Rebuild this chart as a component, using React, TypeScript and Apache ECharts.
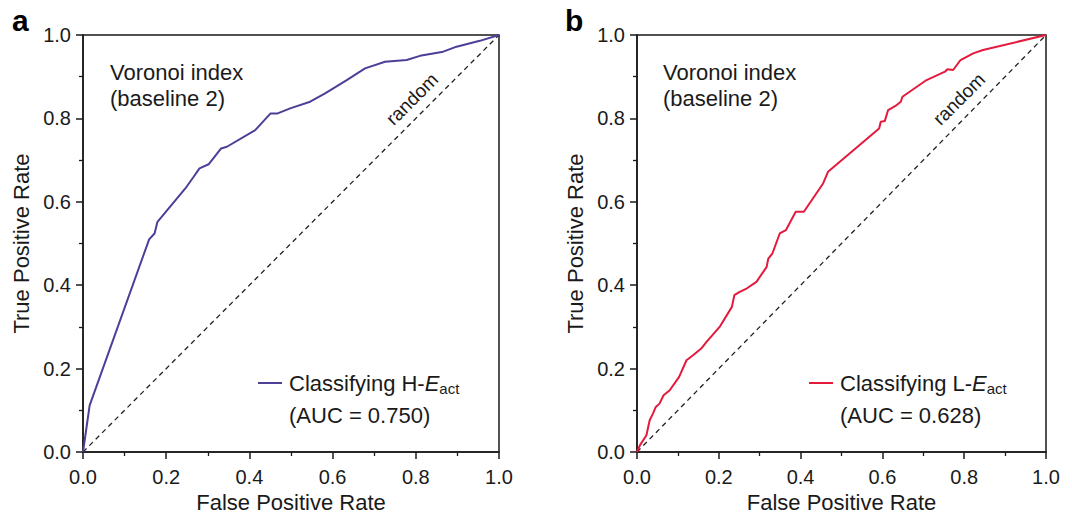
import React, { useEffect, useRef } from "react";
import * as echarts from "echarts";

// Panel a: ROC curve, classifying H-Eact (AUC = 0.750)
const fprA = [0, 0.016, 0.159, 0.172, 0.179, 0.199, 0.246, 0.266, 0.28, 0.302, 0.332, 0.346, 0.414, 0.451, 0.468, 0.498, 0.546, 0.582, 0.634, 0.678, 0.726, 0.778, 0.81, 0.866, 0.898, 0.954, 1];
const tprA = [0, 0.112, 0.51, 0.524, 0.552, 0.576, 0.632, 0.66, 0.68, 0.69, 0.728, 0.732, 0.772, 0.812, 0.812, 0.824, 0.84, 0.86, 0.892, 0.92, 0.936, 0.94, 0.95, 0.96, 0.972, 0.986, 1];

// Panel b: ROC curve, classifying L-Eact (AUC = 0.628)
const fprB = [0, 0.007, 0.023, 0.031, 0.039, 0.046, 0.055, 0.065, 0.08, 0.103, 0.121, 0.137, 0.157, 0.17, 0.202, 0.232, 0.238, 0.251, 0.268, 0.292, 0.317, 0.321, 0.331, 0.349, 0.364, 0.388, 0.408, 0.455, 0.467, 0.592, 0.596, 0.606, 0.614, 0.635, 0.645, 0.649, 0.708, 0.753, 0.759, 0.773, 0.791, 0.822, 0.846, 1];
const tprB = [0, 0.016, 0.04, 0.076, 0.092, 0.108, 0.116, 0.136, 0.148, 0.18, 0.22, 0.232, 0.248, 0.264, 0.3, 0.348, 0.376, 0.384, 0.392, 0.408, 0.444, 0.464, 0.476, 0.524, 0.532, 0.576, 0.576, 0.644, 0.672, 0.776, 0.792, 0.794, 0.82, 0.832, 0.84, 0.852, 0.892, 0.912, 0.918, 0.916, 0.94, 0.956, 0.964, 1];

const randomLine = [0, 1];
const axisTicks = [0, 0.2, 0.4, 0.6, 0.8, 1.0];

const colorA = "#4b3f98";
const colorB = "#e41a3c";
const ink = "#1a1a1a";
const font = "Liberation Sans, Arial, sans-serif";

const zip = (xs: number[], ys: number[]) => xs.map((x, i) => [x, ys[i]]);

function axis(gridIndex: number, name: string, isY: boolean) {
  return {
    gridIndex,
    type: "value",
    min: axisTicks[0],
    max: axisTicks[axisTicks.length - 1],
    interval: 0.2,
    name,
    nameLocation: "middle",
    nameGap: isY ? 51 : 39,
    nameTextStyle: { fontSize: 22, lineHeight: 22, color: ink, fontFamily: font },
    axisLine: { show: true, onZero: false, lineStyle: { color: ink, width: 1.5 } },
    axisTick: { show: true, inside: false, length: 7, lineStyle: { color: ink, width: 1.5 } },
    minorTick: { show: true, splitNumber: 2, length: 4, lineStyle: { color: ink, width: 1.3 } },
    splitLine: { show: false },
    minorSplitLine: { show: false },
    axisLabel: {
      fontSize: 20,
      color: ink,
      fontFamily: font,
      margin: isY ? 12 : 15,
      formatter: (v: number) => v.toFixed(1),
    },
  };
}

function panelTexts(left: number, legendLeft: number, randomX: number, letter: string, letterX: number, legendLabel: string, auc: string, color: string) {
  return [
    {
      type: "text",
      left: letterX,
      top: 5,
      style: { text: letter, font: `bold 30px ${font}`, fill: "#000" },
    },
    {
      type: "text",
      x: left,
      y: 72,
      style: { text: "Voronoi index", font: `22px ${font}`, fill: ink, verticalAlign: "middle" },
    },
    {
      type: "text",
      x: left,
      y: 98,
      style: { text: "(baseline 2)", font: `22px ${font}`, fill: ink, verticalAlign: "middle" },
    },
    {
      type: "text",
      x: randomX,
      y: 99,
      rotation: Math.PI / 4,
      style: { text: "random", font: `19px ${font}`, fill: ink, align: "center", verticalAlign: "middle" },
    },
    {
      type: "line",
      shape: { x1: legendLeft, y1: 383, x2: legendLeft + 24, y2: 383 },
      style: { stroke: color, lineWidth: 2 },
    },
    {
      type: "text",
      x: legendLeft + 31,
      y: 383,
      style: {
        text: `{n|${legendLabel}}{i|E}{s|act}`,
        verticalAlign: "middle",
        rich: {
          n: { fontSize: 22, fontFamily: font, fill: ink },
          i: { fontSize: 22, fontFamily: font, fontStyle: "italic", fill: ink },
          s: { fontSize: 15, fontFamily: font, fill: ink, padding: [10, 0, 0, 0] },
        },
      },
    },
    {
      type: "text",
      x: legendLeft + 31,
      y: 415,
      style: { text: auc, font: `22px ${font}`, fill: ink, verticalAlign: "middle" },
    },
  ];
}

export default function App() {
  const ref = useRef<HTMLDivElement>(null);
  useEffect(() => {
    if (!ref.current) return;
    const chart = echarts.init(ref.current, null, { renderer: "svg" });
    const dashed = { color: "#222", width: 1.3, type: [5, 4] };
    chart.setOption({
      animation: false,
      backgroundColor: "#fff",
      grid: [
        { left: 83, top: 35, width: 416, height: 417, show: true, borderColor: ink, borderWidth: 1.5, containLabel: false, outerBoundsMode: "none" },
        { left: 637, top: 35, width: 409, height: 417, show: true, borderColor: ink, borderWidth: 1.5, containLabel: false, outerBoundsMode: "none" },
      ],
      xAxis: [axis(0, "False Positive Rate", false), axis(1, "False Positive Rate", false)],
      yAxis: [axis(0, "True Positive Rate", true), axis(1, "True Positive Rate", true)],
      series: [
        {
          type: "line", xAxisIndex: 0, yAxisIndex: 0, showSymbol: false, silent: true,
          data: zip(randomLine, randomLine), lineStyle: dashed, z: 1,
        },
        {
          type: "line", xAxisIndex: 0, yAxisIndex: 0, showSymbol: false, silent: true,
          data: zip(fprA, tprA), lineStyle: { color: colorA, width: 2 }, z: 2,
        },
        {
          type: "line", xAxisIndex: 1, yAxisIndex: 1, showSymbol: false, silent: true,
          data: zip(randomLine, randomLine), lineStyle: dashed, z: 1,
        },
        {
          type: "line", xAxisIndex: 1, yAxisIndex: 1, showSymbol: false, silent: true,
          data: zip(fprB, tprB), lineStyle: { color: colorB, width: 2 }, z: 2,
        },
      ],
      graphic: [
        ...panelTexts(110, 258, 412, "a", 12, "Classifying H-", "(AUC = 0.750)", colorA),
        ...panelTexts(663, 809, 959, "b", 565, "Classifying L-", "(AUC = 0.628)", colorB),
      ],
    });
    return () => chart.dispose();
  }, []);
  return (
    <div
      ref={ref}
      style={{ position: "absolute", left: 0, top: 0, width: 1072, height: 514 }}
    />
  );
}
